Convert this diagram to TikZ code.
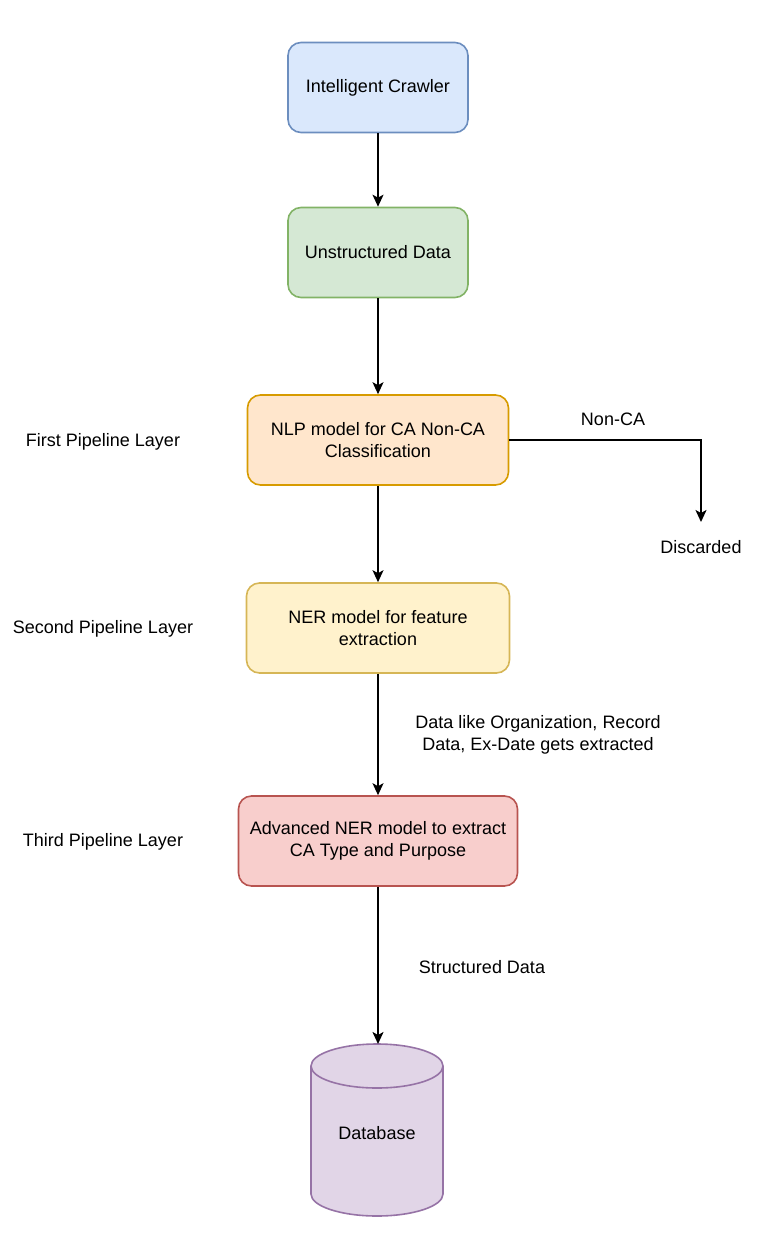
\documentclass[tikz,border=0pt]{standalone}
\usepackage{fontspec}
\setmainfont{Liberation Sans}
\usetikzlibrary{arrows.meta}
\definecolor{blueF}{HTML}{DAE8FC}\definecolor{blueD}{HTML}{6C8EBF}
\definecolor{greenF}{HTML}{D5E8D4}\definecolor{greenD}{HTML}{82B366}
\definecolor{orangeF}{HTML}{FFE6CC}\definecolor{orangeD}{HTML}{D79B00}
\definecolor{yellowF}{HTML}{FFF2CC}\definecolor{yellowD}{HTML}{D6B656}
\definecolor{redF}{HTML}{F8CECC}\definecolor{redD}{HTML}{B85450}
\definecolor{purpleF}{HTML}{E1D5E7}\definecolor{purpleD}{HTML}{9673A6}
\begin{document}
\begin{tikzpicture}[x=1pt,y=-1pt,
  every node/.style={font=\fontsize{18}{21.6}\selectfont, align=center, inner sep=0pt},
  box/.style={draw, rounded corners=13pt, line width=1.6pt, minimum height=90pt},
  arr/.style={-{Stealth[length=12pt,width=11pt,inset=3pt]}, line width=1.8pt}]
\useasboundingbox (0,0) rectangle (774,1236);
\node[box, fill=blueF, draw=blueD, minimum width=180pt] (crawler) at (378,87.5) {Intelligent Crawler};
\node[box, fill=greenF, draw=greenD, minimum width=180pt] (unstr) at (378,252.5) {Unstructured Data};
\node[box, fill=orangeF, draw=orangeD, minimum width=261pt] (nlp) at (378,440) {NLP model for CA Non-CA\\Classification};
\node[box, fill=yellowF, draw=yellowD, minimum width=263pt] (ner) at (378,628) {NER model for feature\\extraction};
\node[box, fill=redF, draw=redD, minimum width=279pt] (adv) at (378,841) {Advanced NER model to extract\\CA Type and Purpose};
% database cylinder
\fill[purpleF] (311,1066) rectangle (443,1194);
\fill[purpleF] (377,1194) ellipse[x radius=66pt,y radius=22pt];
\draw[purpleD, line width=1.6pt] (311,1066) -- (311,1194) arc[start angle=180,end angle=360,x radius=66pt,y radius=22pt] -- (443,1066);
\draw[purpleD, line width=1.6pt, fill=purpleF] (377,1066) ellipse[x radius=66pt,y radius=22pt];
\node (db) at (377,1133) {Database};
\coordinate (dbtop) at (378,1044);
\coordinate (discTop) at (701,522);
\node (disc) at (701,547) {Discarded};
\node (noncaL) at (613,419) {Non-CA};
\node (l1) at (103,442) {First Pipeline Layer};
\node (l2) at (103,629) {Second Pipeline Layer};
\node (l3) at (103,842) {Third Pipeline Layer};
\node (dataL) at (538,735) {Data like Organization, Record\\Data, Ex-Date gets extracted};
\node (structL) at (482,967) {Structured Data};
\draw[arr] (crawler.south) -- (unstr.north);
\draw[arr] (unstr.south) -- (nlp.north);
\draw[arr] (nlp.east) -| (discTop);
\draw[arr] (nlp.south) -- (ner.north);
\draw[arr] (ner.south) -- (adv.north);
\draw[arr] (adv.south) -- (dbtop);
\end{tikzpicture}
\end{document}
